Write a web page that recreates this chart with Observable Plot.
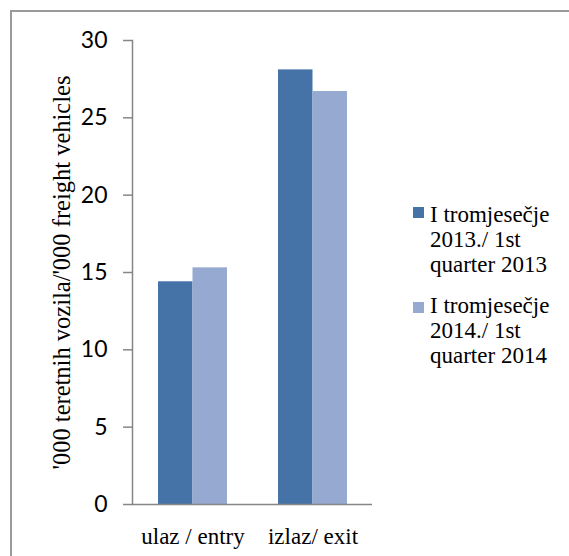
<!DOCTYPE html>
<html>
<head>
<meta charset="utf-8">
<script src="https://cdn.jsdelivr.net/npm/d3@7"></script>
<script src="https://cdn.jsdelivr.net/npm/@observablehq/plot@0.6"></script>
<style>
  html, body { margin: 0; padding: 0; background: #fff; }
  #wrap { position: relative; width: 569px; height: 556px; overflow: hidden; background: #fff; }
  #wrap svg { position: absolute; left: 0; top: 0; }
  #border { position: absolute; left: 10px; top: 10px; width: 700px; height: 700px;
            border-top: 2px solid #9a9a9a; border-left: 2px solid #9a9a9a; box-sizing: border-box; }
  #legend { position: absolute; left: 413px; top: 0; font-family: "Liberation Serif", "Times New Roman", serif;
            font-size: 23px; line-height: 25px; color: #000; }
  .item { position: absolute; left: 0; white-space: nowrap; }
  .sw { position: absolute; left: 0; width: 11px; height: 11px; }
  .txt { position: absolute; left: 17px; top: 0; }
</style>
</head>
<body>
<div id="wrap">
  <div id="border"></div>
</div>
<script>
const categories = ["ulaz / entry", "izlaz/ exit"];
const seriesNames = [
  ["I tromjesečje", "2013./ 1st", "quarter 2013"],
  ["I tromjesečje", "2014./ 1st", "quarter 2014"]
];
const values2013 = [14.4, 28.1];
const values2014 = [15.3, 26.7];
const yTicks = [0, 5, 10, 15, 20, 25, 30];
const colors = ["#4673a7", "#95a9d1"];
const yLabel = "'000 teretnih vozila/'000 freight vehicles";

const rows2013 = categories.map((c, i) => ({category: c, value: values2013[i]}));
const rows2014 = categories.map((c, i) => ({category: c, value: values2014[i]}));

const axisColor = "#868686";
const half = 34.5;
const serif = "Liberation Serif, Times New Roman, serif";

const chart = Plot.plot({
  width: 569,
  height: 556,
  marginLeft: 132,
  marginRight: 197,
  marginTop: 40,
  marginBottom: 52,
  style: {background: "transparent", overflow: "visible"},
  x: {domain: categories, paddingInner: 0.425, paddingOuter: 0.2125},
  y: {domain: [0, 30]},
  marks: [
    Plot.barY(rows2013, {x: "category", y: "value", fill: colors[0], insetRight: half}),
    Plot.barY(rows2014, {x: "category", y: "value", fill: colors[1], insetLeft: half}),
    Plot.frame({anchor: "left", stroke: axisColor, strokeWidth: 1.5}),
    Plot.ruleY([0], {stroke: axisColor, strokeWidth: 1.5}),
    Plot.axisY({ticks: yTicks, tickSize: 9, tickPadding: 16, stroke: axisColor, strokeWidth: 1.5,
      fill: "#000", fontSize: 23, fontFamily: "Lato, Open Sans, sans-serif", label: null}),
    Plot.axisX({tickSize: 0, tickPadding: 23, fill: "#000", fontSize: 23,
      fontFamily: serif, label: null}),
    Plot.text([yLabel], {frameAnchor: "left", rotate: -90, dx: -70, dy: 0, lineAnchor: "middle", textAnchor: "middle",
      fontSize: 24.5, fontFamily: serif, fill: "#000"})
  ]
});
const wrap = document.getElementById("wrap");
wrap.insertBefore(chart, wrap.firstChild);

const legend = document.createElement("div");
legend.id = "legend";
const tops = [202, 293];
const swTops = [207, 302];
seriesNames.forEach((lines, i) => {
  const item = document.createElement("div");
  item.className = "item";
  item.style.top = tops[i] + "px";
  const sw = document.createElement("div");
  sw.className = "sw";
  sw.style.background = colors[i];
  sw.style.top = (swTops[i] - tops[i]) + "px";
  const txt = document.createElement("div");
  txt.className = "txt";
  txt.innerHTML = lines.join("<br>");
  item.appendChild(sw);
  item.appendChild(txt);
  legend.appendChild(item);
});
wrap.appendChild(legend);
</script>
</body>
</html>
